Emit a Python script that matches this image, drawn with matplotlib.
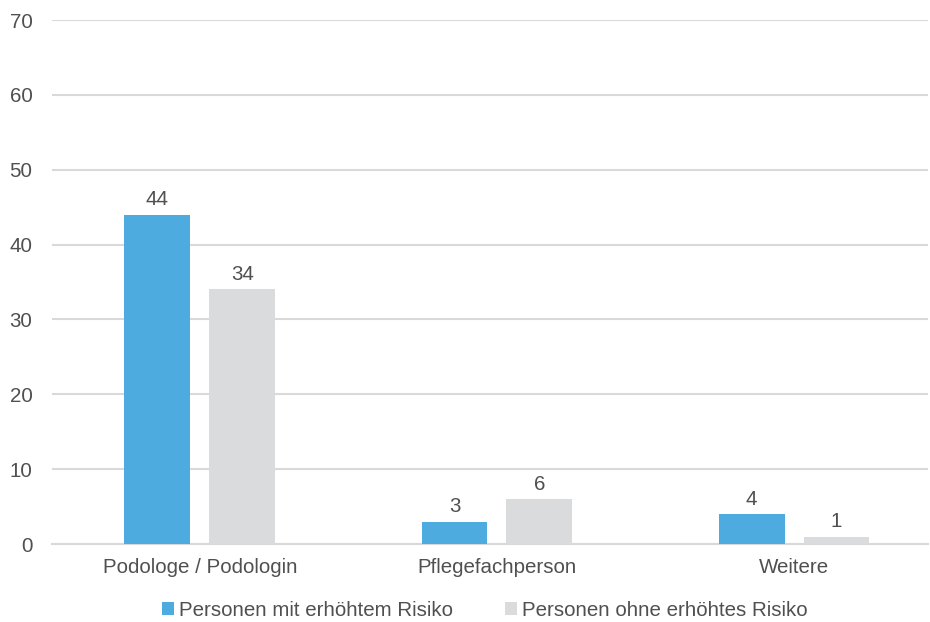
import matplotlib
matplotlib.use("Agg")
import matplotlib.pyplot as plt
from matplotlib.patches import Patch
import numpy as np

categories = ["Podologe / Podologin", "Pflegefachperson", "Weitere"]
series_names = ["Personen mit erhöhtem Risiko", "Personen ohne erhöhtes Risiko"]
risk_high = [44, 3, 4]
risk_none = [34, 6, 1]
yticks = [0, 10, 20, 30, 40, 50, 60, 70]

blue = "#4EABDF"
gray = "#DADBDC"
text_col = "#505050"
grid_col = "#D9D9D9"

plt.rcParams["font.family"] = ["Liberation Sans", "DejaVu Sans"]
fs = 14.8

fig = plt.figure(figsize=(9.3, 6.22), dpi=100)
ax = fig.add_axes([52/930, 1-544/622, (928-52)/930, (544-20)/622])

x = np.arange(len(categories))
w = 0.222
off = 0.143
b1 = ax.bar(x - off, risk_high, width=w, color=blue, zorder=3)
b2 = ax.bar(x + off, risk_none, width=w, color=gray, zorder=3)

for bars, vals in ((b1, risk_high), (b2, risk_none)):
    for r, v in zip(bars, vals):
        ax.annotate(str(v), (r.get_x() + r.get_width()/2, v), xytext=(0, 4),
                    textcoords="offset points", ha="center", va="bottom",
                    fontsize=fs, color=text_col)

ax.set_xlim(-0.498, 2.451)
ax.set_ylim(0, 70)
ax.set_yticks(yticks)
ax.set_xticks(x)
ax.set_xticklabels(categories)
ax.tick_params(axis="both", length=0, labelsize=fs, labelcolor=text_col)
ax.tick_params(axis="x", pad=10)
ax.tick_params(axis="y", pad=14)
ax.yaxis.grid(True, color=grid_col, linewidth=1.5, zorder=0)
for s in ["left", "right", "top"]:
    ax.spines[s].set_visible(False)
ax.spines["bottom"].set_color(grid_col)
ax.spines["bottom"].set_linewidth(1.5)

handles = [Patch(facecolor=blue), Patch(facecolor=gray)]
fig.legend(handles, series_names, loc="center", bbox_to_anchor=(485/930, 1-610/622),
           ncol=2, frameon=False, fontsize=fs, labelcolor=text_col,
           handlelength=0.6, handleheight=0.6, handletextpad=0.25, columnspacing=2.5)

fig.savefig("out.png", dpi=100, facecolor="white")
